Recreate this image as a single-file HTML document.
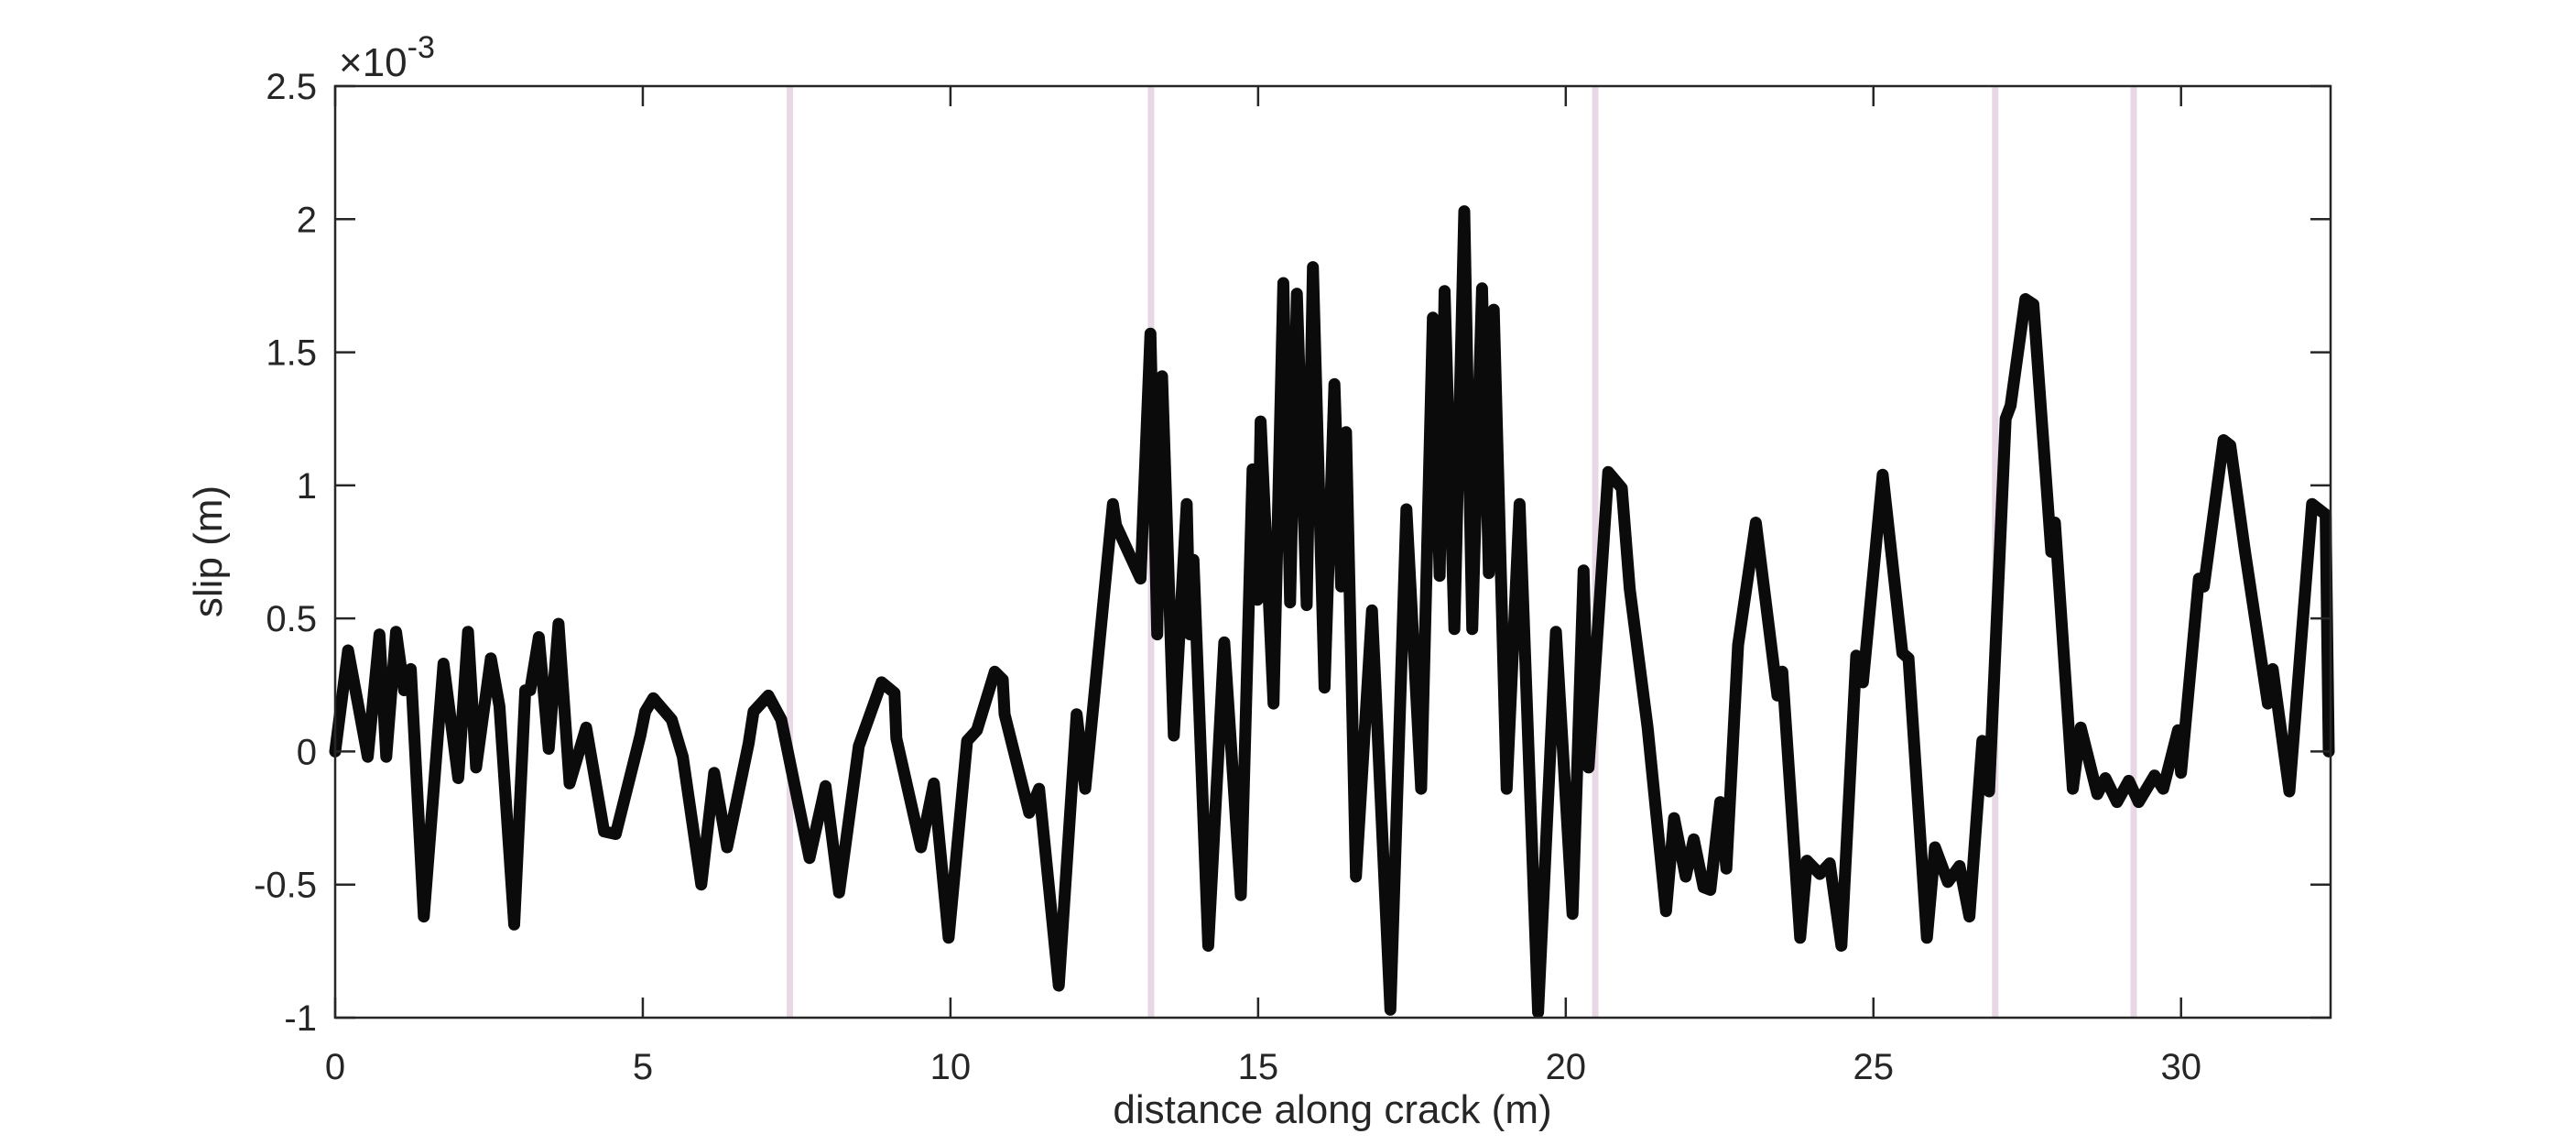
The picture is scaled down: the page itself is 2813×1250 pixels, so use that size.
<!DOCTYPE html>
<html><head><meta charset="utf-8"><style>
html,body{margin:0;padding:0;background:#fff;}
svg{display:block;font-family:"Liberation Sans",Arial,sans-serif;}
</style></head><body>
<svg id="chart" width="2813" height="1250" viewBox="0 0 2813 1250" xmlns="http://www.w3.org/2000/svg">
<rect x="0" y="0" width="2813" height="1250" fill="#fff"/>
<g id="vlines"></g>
<g id="series"></g>
<g id="axes"></g>
<text x="370" y="83" font-size="44" fill="#262626">×10<tspan dy="-20" font-size="34">-3</tspan></text>
<text x="1455" y="1226" font-size="44" fill="#262626" text-anchor="middle">distance along crack (m)</text>
<text transform="translate(242,602) rotate(-90)" font-size="44" fill="#262626" text-anchor="middle">slip (m)</text>
</svg>
<script>
const xTicks = [0,5,10,15,20,25,30];
const yTicks = [-1,-0.5,0,0.5,1,1.5,2,2.5];
const yTickLabels = ["-1","-0.5","0","0.5","1","1.5","2","2.5"];
const markerX = [7.39,13.26,20.48,26.98,29.23];
const distX = [0,0.21,0.53,0.72,0.83,0.99,1.12,1.23,1.44,1.76,2.0,2.16,2.29,2.53,2.67,2.91,3.09,3.17,3.31,3.47,3.63,3.81,4.08,4.37,4.56,4.96,5.04,5.17,5.47,5.65,5.95,6.16,6.37,6.72,6.8,7.04,7.25,7.71,7.97,8.19,8.51,8.88,9.09,9.12,9.52,9.73,9.97,10.27,10.43,10.72,10.85,10.88,11.28,11.44,11.76,12.05,12.19,12.64,12.69,13.09,13.25,13.36,13.44,13.63,13.84,13.89,13.95,14.19,14.45,14.72,14.91,14.99,15.04,15.25,15.41,15.52,15.63,15.79,15.89,16.08,16.24,16.35,16.43,16.59,16.85,17.15,17.41,17.65,17.84,17.95,18.03,18.19,18.35,18.48,18.64,18.75,18.83,19.04,19.25,19.55,19.84,20.11,20.29,20.37,20.69,20.91,21.04,21.33,21.63,21.76,21.95,22.08,22.24,22.35,22.51,22.61,22.8,23.09,23.44,23.52,23.81,23.92,24.13,24.29,24.48,24.72,24.83,25.15,25.47,25.57,25.87,26.0,26.21,26.4,26.56,26.77,26.88,27.15,27.23,27.47,27.6,27.89,27.95,28.24,28.37,28.64,28.77,28.96,29.15,29.31,29.57,29.71,29.95,30.0,30.29,30.37,30.69,30.8,31.04,31.41,31.49,31.76,32.13,32.35,32.4];
const slipY = [0,0.38,-0.02,0.44,-0.02,0.45,0.23,0.31,-0.62,0.33,-0.1,0.45,-0.06,0.35,0.17,-0.65,0.23,0.23,0.43,0.01,0.48,-0.12,0.09,-0.3,-0.31,0.06,0.15,0.2,0.12,-0.02,-0.5,-0.08,-0.36,0.03,0.15,0.21,0.12,-0.4,-0.13,-0.53,0.02,0.26,0.22,0.05,-0.36,-0.12,-0.7,0.04,0.08,0.3,0.27,0.14,-0.23,-0.14,-0.88,0.14,-0.14,0.93,0.85,0.65,1.57,0.44,1.41,0.06,0.93,0.44,0.72,-0.73,0.41,-0.54,1.06,0.57,1.24,0.18,1.76,0.56,1.72,0.55,1.82,0.24,1.38,0.62,1.2,-0.47,0.53,-0.97,0.91,-0.14,1.63,0.66,1.73,0.46,2.03,0.46,1.74,0.67,1.66,-0.14,0.93,-0.98,0.45,-0.61,0.68,-0.06,1.05,0.99,0.61,0.09,-0.6,-0.25,-0.47,-0.33,-0.51,-0.52,-0.19,-0.44,0.4,0.86,0.21,0.3,-0.7,-0.41,-0.46,-0.42,-0.73,0.36,0.26,1.04,0.37,0.35,-0.7,-0.36,-0.49,-0.43,-0.62,0.04,-0.15,1.25,1.3,1.7,1.68,0.75,0.86,-0.14,0.09,-0.16,-0.1,-0.19,-0.11,-0.19,-0.09,-0.14,0.08,-0.08,0.65,0.62,1.17,1.15,0.75,0.18,0.31,-0.15,0.93,0.89,0];

const L=366,R=2545,T=94,B=1111,XMAX=32.43,YMIN=-1,YMAX=2.5;
const NS="http://www.w3.org/2000/svg";
function sx(v){return L+(v/XMAX)*(R-L);}
function sy(v){return B-(v-YMIN)/(YMAX-YMIN)*(B-T);}
function mk(t,a,p){const e=document.createElementNS(NS,t);for(const k in a)e.setAttribute(k,a[k]);p.appendChild(e);return e;}

const vg=document.getElementById('vlines');
markerX.forEach(v=>{
  const l=mk('line',{x1:sx(v),x2:sx(v),y1:T,y2:B,stroke:'#e8d8e6','stroke-width':7},vg);
  
  
});

const sg=document.getElementById('series');
const pts=distX.map((x,i)=>sx(x).toFixed(1)+','+sy(slipY[i]).toFixed(1)).join(' ');
const pl=mk('polyline',{points:pts,fill:'none',stroke:'#0b0b0b','stroke-width':13,'stroke-linejoin':'round','stroke-linecap':'round'},sg);



const ag=document.getElementById('axes');
const box=mk('rect',{x:L,y:T,width:R-L,height:B-T,fill:'none',stroke:'#262626','stroke-width':2.5},ag);


xTicks.forEach(v=>{
  const x=sx(v);
  mk('line',{x1:x,x2:x,y1:B,y2:B-22,stroke:'#262626','stroke-width':2.5},ag);
  mk('line',{x1:x,x2:x,y1:T,y2:T+22,stroke:'#262626','stroke-width':2.5},ag);
  const t=mk('text',{x:x,y:1178,'font-size':40,fill:'#262626','text-anchor':'middle'},ag);
  t.textContent=String(v);
  
  
});
yTicks.forEach((v,i)=>{
  const y=sy(v);
  mk('line',{x1:L,x2:L+22,y1:y,y2:y,stroke:'#262626','stroke-width':2.5},ag);
  mk('line',{x1:R,x2:R-22,y1:y,y2:y,stroke:'#262626','stroke-width':2.5},ag);
  const t=mk('text',{x:346,y:y+14,'font-size':40,fill:'#262626','text-anchor':'end'},ag);
  t.textContent=yTickLabels[i];
  
  
});
</script>
</body></html>
